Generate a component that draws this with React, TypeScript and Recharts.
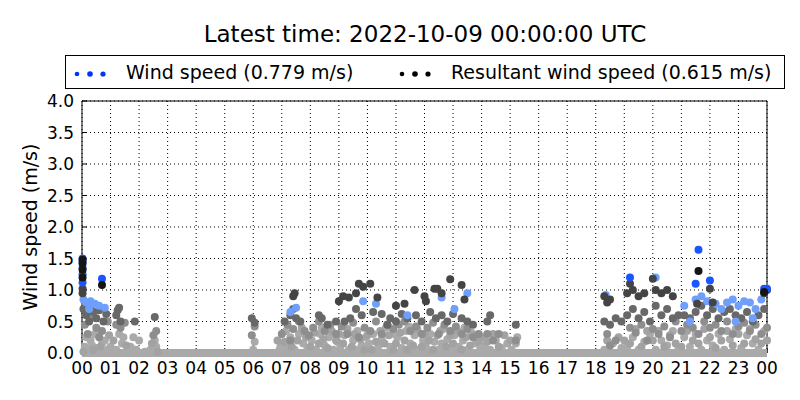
import { ScatterChart, Scatter, XAxis, YAxis, CartesianGrid } from 'recharts';

type Pt = [number, number];

// hour of day, wind speed (m/s) — grouped by age, oldest first
const oldest: Pt[] = [
  [0.1, 0.1], [0.2, 0.05], [0.35, 0.12], [0.5, 0.08], [0.7, 0.15], [0.9, 0.05], [0.15, 0.25],
  [0.45, 0.3], [0.8, 0.2], [1.0, 0.1], [1.2, 0.05], [1.4, 0.15], [1.6, 0.03], [0.6, 0.35], [0.3, 0.2],
  [1.3, 0.3], [1.45, 0.25], [1.7, 0.1], [1.9, 0.05], [2.0, 0.2], [2.4, 0.05], [2.5, 0.08], [2.6, 0.1],
  [2.55, 0.2], [2.2, 0.02], [1.8, 0.25],
  [6.0, 0.05], [6.05, 0.18], [6.9, 0.03], [6.95, 0.1],
  [7.05, 0.05], [7.2, 0.12], [7.3, 0.25], [7.45, 0.05], [7.6, 0.3], [7.75, 0.15], [7.9, 0.08], [7.15, 0.35],
  [8.05, 0.2], [8.2, 0.05], [8.35, 0.3], [8.5, 0.12], [8.65, 0.25], [8.8, 0.05], [8.95, 0.18], [8.4, 0.4],
  [9.05, 0.1], [9.2, 0.28], [9.35, 0.05], [9.5, 0.2], [9.65, 0.35], [9.8, 0.12], [9.95, 0.25], [9.6, 0.05],
  [10.05, 0.15], [10.2, 0.3], [10.35, 0.05], [10.5, 0.22], [10.65, 0.4], [10.8, 0.1], [10.95, 0.3], [10.4, 0.12],
  [11.05, 0.25], [11.2, 0.08], [11.35, 0.35], [11.5, 0.15], [11.65, 0.28], [11.8, 0.05], [11.95, 0.2], [11.45, 0.42],
  [12.05, 0.1], [12.2, 0.3], [12.35, 0.18], [12.5, 0.05], [12.65, 0.38], [12.8, 0.22], [12.95, 0.08], [12.6, 0.15],
  [13.05, 0.28], [13.2, 0.1], [13.35, 0.2], [13.5, 0.05], [13.65, 0.32], [13.8, 0.15], [13.95, 0.05], [13.4, 0.4],
  [14.1, 0.12], [14.3, 0.05], [14.5, 0.2], [14.7, 0.08], [14.9, 0.15],
  [15.05, 0.05], [15.2, 0.15], [15.25, 0.25],
  [18.3, 0.05], [18.6, 0.15], [18.9, 0.08],
  [19.1, 0.1], [19.3, 0.25], [19.5, 0.05], [19.7, 0.18], [19.9, 0.3],
  [20.1, 0.05], [20.3, 0.2], [20.5, 0.12], [20.7, 0.35], [20.9, 0.08],
  [21.1, 0.25], [21.3, 0.1], [21.5, 0.3], [21.7, 0.05], [21.9, 0.2],
  [22.1, 0.12], [22.3, 0.3], [22.5, 0.05], [22.7, 0.22], [22.9, 0.38],
  [23.1, 0.08], [23.3, 0.28], [23.5, 0.15], [23.7, 0.05], [23.9, 0.35],
];

const oldestB: Pt[] = [
  [0.05, 0.02], [0.4, 0.05], [0.65, 0.1], [0.95, 0.28], [1.1, 0.2], [1.55, 0.12], [2.45, 0.15], [2.65, 0.02],
  [6.85, 0.2], [7.1, 0.18], [7.35, 0.1], [7.55, 0.2], [7.7, 0.4], [7.85, 0.25], [8.0, 0.1], [8.15, 0.32],
  [8.3, 0.15], [8.45, 0.22], [8.6, 0.08], [8.75, 0.35], [8.9, 0.2],
  [9.0, 0.3], [9.15, 0.15], [9.3, 0.38], [9.45, 0.1], [9.55, 0.3], [9.75, 0.22], [9.9, 0.05],
  [10.0, 0.28], [10.15, 0.05], [10.3, 0.18], [10.45, 0.35], [10.6, 0.15], [10.75, 0.28], [10.9, 0.05],
  [11.0, 0.15], [11.15, 0.32], [11.3, 0.2], [11.4, 0.05], [11.6, 0.12], [11.75, 0.38], [11.9, 0.1],
  [12.0, 0.3], [12.15, 0.2], [12.3, 0.05], [12.45, 0.28], [12.55, 0.35], [12.75, 0.1], [12.9, 0.28],
  [13.0, 0.15], [13.15, 0.35], [13.3, 0.05], [13.45, 0.25], [13.6, 0.12], [13.75, 0.28], [13.9, 0.18],
  [14.0, 0.25], [14.2, 0.18], [14.4, 0.3], [14.6, 0.1], [14.8, 0.28], [15.0, 0.2],
  [18.4, 0.2], [18.8, 0.25], [19.0, 0.2], [19.2, 0.15], [19.4, 0.38], [19.6, 0.1], [19.8, 0.35],
  [20.0, 0.2], [20.2, 0.35], [20.4, 0.1], [20.6, 0.28], [20.8, 0.15],
  [21.0, 0.1], [21.2, 0.35], [21.4, 0.2], [21.6, 0.15], [21.8, 0.38],
  [22.0, 0.25], [22.2, 0.08], [22.4, 0.2], [22.6, 0.35], [22.8, 0.12],
  [23.0, 0.3], [23.2, 0.15], [23.4, 0.38], [23.6, 0.22], [23.8, 0.15], [24.0, 0.2],
];

const older: Pt[] = [
  [0.1, 0.45], [0.3, 0.55], [0.5, 0.4], [0.7, 0.35], [0.9, 0.5], [0.2, 0.3], [0.6, 0.25],
  [1.2, 0.45], [1.35, 0.4], [1.5, 0.48], [2.5, 0.28], [2.6, 0.35],
  [5.95, 0.28], [6.05, 0.42],
  [7.0, 0.3], [7.2, 0.45], [7.4, 0.38], [7.6, 0.5], [7.8, 0.35], [7.3, 0.2], [7.95, 0.28],
  [8.1, 0.4], [8.3, 0.5], [8.5, 0.35], [8.7, 0.45], [8.9, 0.3],
  [9.1, 0.42], [9.3, 0.3], [9.5, 0.48], [9.7, 0.25], [9.9, 0.4],
  [10.1, 0.35], [10.3, 0.5], [10.5, 0.3], [10.7, 0.45], [10.9, 0.38],
  [11.1, 0.45], [11.3, 0.5], [11.5, 0.35], [11.7, 0.42], [11.9, 0.3],
  [12.1, 0.4], [12.3, 0.48], [12.5, 0.3], [12.7, 0.45], [12.9, 0.35],
  [13.1, 0.42], [13.3, 0.3], [13.5, 0.38], [13.7, 0.25], [13.9, 0.3],
  [14.2, 0.3], [14.4, 0.2], [14.6, 0.3], [15.2, 0.2],
  [18.4, 0.3], [18.7, 0.2], [18.5, 0.12],
  [19.2, 0.4], [19.4, 0.32], [19.6, 0.45], [19.8, 0.2], [20.0, 0.38], [20.2, 0.3], [20.4, 0.42], [20.6, 0.25], [20.8, 0.5],
  [21.0, 0.35], [21.2, 0.45], [21.4, 0.4], [21.6, 0.3], [21.8, 0.5], [22.0, 0.4], [22.2, 0.45], [22.4, 0.35],
  [22.6, 0.5], [22.8, 0.3], [23.0, 0.42], [23.2, 0.48], [23.4, 0.35], [23.6, 0.45], [23.8, 0.3], [24.0, 0.4],
];

const recent: Pt[] = [
  [0.05, 0.7], [0.15, 0.6], [0.3, 0.72], [0.4, 0.65], [0.5, 0.55], [0.6, 0.68], [0.75, 0.5], [0.85, 0.62], [0.25, 0.5],
  [1.25, 0.68], [1.3, 0.72], [1.2, 0.6], [1.35, 0.5], [1.85, 0.5], [2.55, 0.57],
  [5.95, 0.55], [6.05, 0.48],
  [7.1, 0.5], [7.3, 0.6], [7.5, 0.55], [7.65, 0.5], [7.4, 0.7],
  [8.3, 0.6], [8.4, 0.55], [8.9, 0.5], [8.6, 0.45],
  [9.4, 0.55], [9.6, 0.7], [9.8, 0.6], [9.2, 0.5],
  [10.2, 0.65], [10.5, 0.62], [10.8, 0.55], [10.7, 0.45], [11.0, 0.5],
  [11.2, 0.62], [11.4, 0.55], [11.7, 0.6], [11.9, 0.5],
  [12.2, 0.65], [12.4, 0.55], [12.6, 0.6], [12.8, 0.5],
  [13.0, 0.62], [13.3, 0.55], [13.5, 0.5], [13.7, 0.45],
  [14.2, 0.5], [14.3, 0.6], [15.2, 0.45],
  [18.3, 0.5], [18.5, 0.45], [18.7, 0.55], [18.9, 0.5],
  [19.1, 0.6], [19.3, 0.7], [19.5, 0.55], [19.7, 0.65], [19.9, 0.5], [20.1, 0.75], [20.3, 0.6], [20.5, 0.7], [20.7, 0.55], [20.9, 0.6],
  [21.1, 0.6], [21.3, 0.55], [21.5, 0.65], [21.7, 0.75], [21.9, 0.6], [22.1, 0.7], [22.3, 0.55], [22.5, 0.65],
  [22.7, 0.7], [22.9, 0.6], [23.1, 0.55], [23.3, 0.65], [23.5, 0.5], [23.7, 0.6], [23.9, 0.7],
];

const resultantRecent: Pt[] = [
  [0.02, 0.95], [0.02, 1.02], [7.45, 0.95], [7.4, 0.9], [9.0, 0.82], [9.15, 0.9], [9.35, 0.88], [9.6, 0.95],
  [9.7, 1.1], [9.85, 1.05], [10.1, 1.1], [10.35, 0.88], [11.0, 0.75], [11.3, 0.78], [11.65, 1.0], [12.0, 0.9],
  [12.05, 0.82], [12.35, 1.02], [12.45, 1.02], [12.6, 0.95], [12.9, 1.17], [13.3, 1.08], [13.4, 0.85],
  [18.3, 0.9], [18.5, 0.85], [18.4, 0.8], [19.1, 0.95], [19.3, 1.0], [19.5, 0.9], [19.2, 1.1], [19.7, 0.95],
  [20.0, 1.18], [20.1, 1.0], [20.3, 0.95], [20.5, 1.0], [20.7, 0.9], [21.55, 0.78], [22.0, 1.02], [22.1, 0.8],
  [23.9, 0.95], [24.0, 1.0],
];

const windRecent: Pt[] = [
  [0.05, 0.85], [0.15, 0.8], [0.3, 0.82], [0.45, 0.78], [0.6, 0.75], [0.8, 0.72], [0.25, 0.7],
  [7.5, 0.72], [7.3, 0.65], [9.85, 0.82], [10.3, 0.78], [11.4, 0.6], [12.6, 0.88], [13.05, 0.7], [13.5, 0.95],
  [18.35, 0.92], [20.1, 1.2], [21.5, 0.85], [21.7, 0.9], [21.9, 0.82], [22.2, 0.78], [22.4, 0.7], [22.6, 0.8],
  [22.8, 0.85], [23.0, 0.75], [23.2, 0.82], [23.4, 0.8], [23.6, 0.7], [23.8, 0.85], [21.1, 0.75], [21.3, 0.5],
  [23.5, 0.55], [22.9, 0.5],
];

const windLatest: Pt[] = [
  [0.02, 1.5], [0.02, 1.45], [0.02, 1.35], [0.02, 1.25], [0.02, 1.12], [0.7, 1.18],
  [19.2, 1.2], [21.6, 1.64], [21.5, 1.1], [22.0, 1.15], [23.9, 1.02], [24.0, 1.02],
];

const resultantLatest: Pt[] = [
  [0.02, 1.48], [0.02, 1.42], [0.02, 1.32], [0.02, 1.2], [0.7, 1.08], [21.6, 1.3], [23.9, 0.97],
];

const calmBand: Pt[] = [[0, 0], [24, 0]];

const hourTicks = [0, 1, 2, 3, 4, 5, 6, 7, 8, 9, 10, 11, 12, 13, 14, 15, 16, 17, 18, 19, 20, 21, 22, 23, 24];
const speedTicks = [0, 0.5, 1, 1.5, 2, 2.5, 3, 3.5, 4];

const FONT = '"DejaVu Sans", sans-serif';

const toRows = (pts: Pt[]) => pts.map(([h, v]) => ({ h, v }));

const dot = (fill: string) => (props: any) =>
  <circle cx={props.cx} cy={props.cy} r={4} fill={fill} />;

const tiers: { data: Pt[]; color: string }[] = [
  { data: oldest, color: '#aaaaaa' },
  { data: oldestB, color: '#a2a2a2' },
  { data: older, color: '#8e8e8e' },
  { data: recent, color: '#686868' },
  { data: windRecent, color: '#6e9ffc' },
  { data: resultantRecent, color: '#444444' },
  { data: windLatest, color: '#1a55ff' },
  { data: resultantLatest, color: '#151515' },
];

function LegendDots({ color }: { color: string }) {
  return (
    <svg width={36} height={12} style={{ display: 'inline-block', verticalAlign: 'middle' }}>
      <circle cx={4} cy={6} r={2.3} fill={color} />
      <circle cx={17} cy={6} r={2.8} fill={color} />
      <circle cx={30} cy={6} r={2.6} fill={color} />
    </svg>
  );
}

export default function App() {
  return (
    <div style={{ position: 'absolute', left: 0, top: 0, width: 800, height: 400, background: '#fff', fontFamily: FONT }}>
      <div style={{ position: 'absolute', left: 125, width: 600, top: 19, textAlign: 'center', fontSize: 23, lineHeight: '30px' }}>
        Latest time: 2022-10-09 00:00:00 UTC
      </div>
      <div
        style={{
          position: 'absolute', left: 65, top: 55, width: 718, height: 32, border: '1px solid #000',
          fontSize: 19, lineHeight: '32px', whiteSpace: 'nowrap',
        }}
      >
        <span style={{ position: 'absolute', left: 7 }}><LegendDots color="#0033ff" /></span>
        <span style={{ position: 'absolute', left: 60 }}>Wind speed (0.779 m/s)</span>
        <span style={{ position: 'absolute', left: 332 }}><LegendDots color="#000" /></span>
        <span style={{ position: 'absolute', left: 385 }}>Resultant wind speed (0.615 m/s)</span>
      </div>
      <div
        style={{
          position: 'absolute', left: 30, top: 227, width: 0, height: 0, fontSize: 19,
        }}
      >
        <div style={{ position: 'absolute', left: -100, top: -12, width: 200, textAlign: 'center', lineHeight: '24px', transform: 'rotate(-90deg)' }}>
          Wind speed (m/s)
        </div>
      </div>
      <ScatterChart width={800} height={400} margin={{ top: 100, right: 32, bottom: 17, left: 32 }} style={{ position: 'absolute', left: 0, top: 0 }}>
        <CartesianGrid stroke="#000" strokeDasharray="1 3" />
        <XAxis
          type="number" dataKey="h" domain={[0, 24]} ticks={hourTicks} interval={0} height={30}
          tickFormatter={(h: number) => String(h % 24).padStart(2, '0')}
          tick={{ fill: '#000', fontSize: 17, fontFamily: FONT }}
          stroke="#000" tickSize={-5} tickMargin={14}
        />
        <XAxis
          xAxisId="top" orientation="top" type="number" dataKey="h" domain={[0, 24]} ticks={hourTicks} interval={0}
          height={1} tickFormatter={() => ''} stroke="#000" tickSize={-5}
        />
        <YAxis
          type="number" dataKey="v" domain={[0, 4]} ticks={speedTicks} interval={0} width={50}
          tickFormatter={(v: number) => v.toFixed(1)}
          tick={{ fill: '#000', fontSize: 17, fontFamily: FONT }}
          stroke="#000" tickSize={-5} tickMargin={13}
        />
        <YAxis
          yAxisId="right" orientation="right" type="number" dataKey="v" domain={[0, 4]} ticks={speedTicks} interval={0}
          width={1} tickFormatter={() => ''} stroke="#000" tickSize={-5}
        />
        <Scatter
          data={toRows(calmBand)} line={{ stroke: '#a9a9a9', strokeWidth: 8 }} shape={() => <g />}
          isAnimationActive={false}
        />
        {tiers.map((t, i) => (
          <Scatter key={i} data={toRows(t.data)} shape={dot(t.color)} isAnimationActive={false} />
        ))}
      </ScatterChart>
    </div>
  );
}
